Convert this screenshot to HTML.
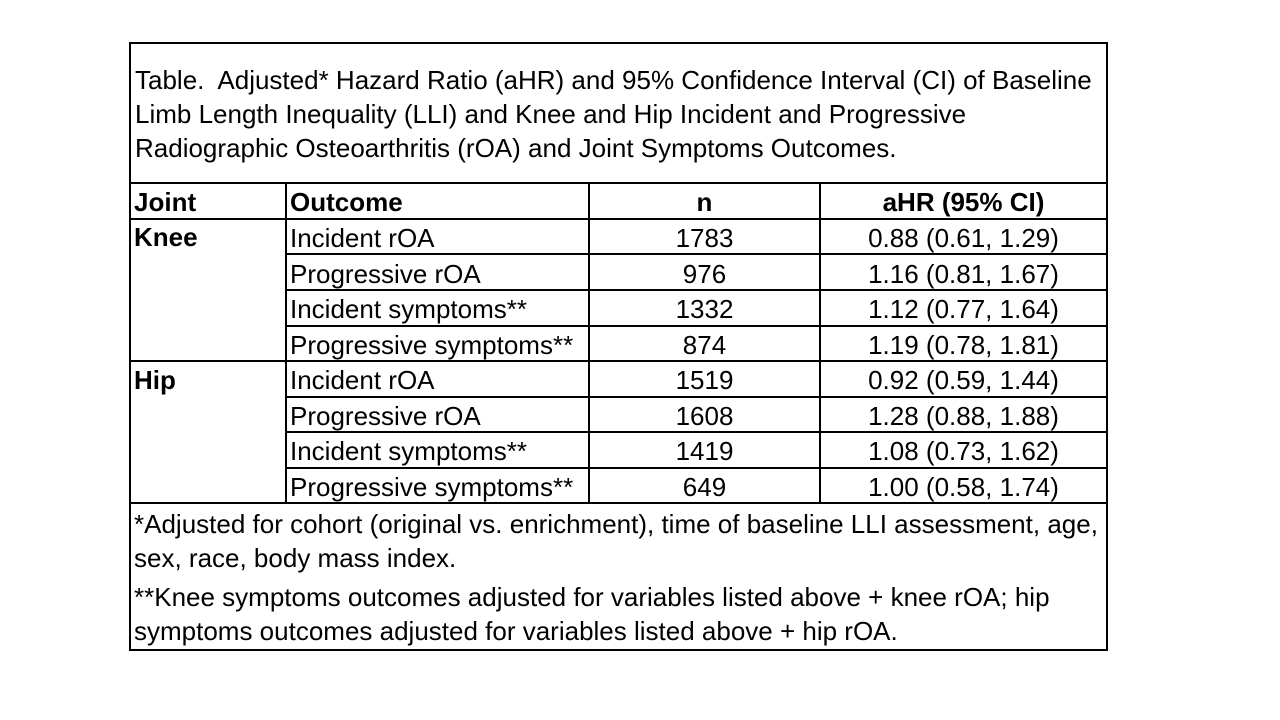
<!DOCTYPE html>
<html><head><meta charset="utf-8"><style>
body{margin:0;width:1280px;height:720px;background:#fff;position:relative;font-family:"Liberation Sans",Arial,sans-serif;font-size:26px;color:#000;overflow:hidden}
.h,.v{position:absolute;background:#000}
.h{height:2px}.v{width:2px}
.t{position:absolute;white-space:nowrap;line-height:36px}
.c{text-align:center}
b{font-weight:bold}
</style></head><body>
<div class="h" style="left:129px;top:42px;width:979px"></div>
<div class="h" style="left:129px;top:649px;width:979px"></div>
<div class="v" style="left:129px;top:42px;height:609px"></div>
<div class="v" style="left:1106px;top:42px;height:609px"></div>
<div class="h" style="left:129px;top:182px;width:979px"></div>
<div class="h" style="left:129px;top:218px;width:979px"></div>
<div class="h" style="left:285px;top:253px;width:823px"></div>
<div class="h" style="left:285px;top:289px;width:823px"></div>
<div class="h" style="left:285px;top:325px;width:823px"></div>
<div class="h" style="left:129px;top:360px;width:979px"></div>
<div class="h" style="left:285px;top:396px;width:823px"></div>
<div class="h" style="left:285px;top:431px;width:823px"></div>
<div class="h" style="left:285px;top:467px;width:823px"></div>
<div class="h" style="left:129px;top:502px;width:979px"></div>
<div class="v" style="left:285px;top:182px;height:322px"></div>
<div class="v" style="left:588px;top:182px;height:322px"></div>
<div class="v" style="left:819px;top:182px;height:322px"></div>

<div class="t" style="left:135px;top:62px">Table.&nbsp; Adjusted* Hazard Ratio (aHR) and 95% Confidence Interval (CI) of Baseline</div>
<div class="t" style="left:135px;top:96px">Limb Length Inequality (LLI) and Knee and Hip Incident and Progressive</div>
<div class="t" style="left:135px;top:130px">Radiographic Osteoarthritis (rOA) and Joint Symptoms Outcomes.</div>

<div class="t" style="left:134px;top:184px"><b>Joint</b></div>
<div class="t" style="left:290px;top:184px"><b>Outcome</b></div>
<div class="t c" style="left:589px;width:231px;top:184px"><b>n</b></div>
<div class="t c" style="left:820px;width:287px;top:184px"><b>aHR (95% CI)</b></div>

<div class="t" style="left:134px;top:219px"><b>Knee</b></div>
<div class="t" style="left:134px;top:362px"><b>Hip</b></div>

<div class="t" style="left:290px;top:220px">Incident rOA</div>
<div class="t" style="left:290px;top:256px">Progressive rOA</div>
<div class="t" style="left:290px;top:291px">Incident symptoms**</div>
<div class="t" style="left:290px;top:327px">Progressive symptoms**</div>
<div class="t" style="left:290px;top:362px">Incident rOA</div>
<div class="t" style="left:290px;top:398px">Progressive rOA</div>
<div class="t" style="left:290px;top:433px">Incident symptoms**</div>
<div class="t" style="left:290px;top:469px">Progressive symptoms**</div>

<div class="t c" style="left:589px;width:231px;top:220px">1783</div>
<div class="t c" style="left:589px;width:231px;top:256px">976</div>
<div class="t c" style="left:589px;width:231px;top:291px">1332</div>
<div class="t c" style="left:589px;width:231px;top:327px">874</div>
<div class="t c" style="left:589px;width:231px;top:362px">1519</div>
<div class="t c" style="left:589px;width:231px;top:398px">1608</div>
<div class="t c" style="left:589px;width:231px;top:433px">1419</div>
<div class="t c" style="left:589px;width:231px;top:469px">649</div>

<div class="t c" style="left:820px;width:287px;top:220px">0.88 (0.61, 1.29)</div>
<div class="t c" style="left:820px;width:287px;top:256px">1.16 (0.81, 1.67)</div>
<div class="t c" style="left:820px;width:287px;top:291px">1.12 (0.77, 1.64)</div>
<div class="t c" style="left:820px;width:287px;top:327px">1.19 (0.78, 1.81)</div>
<div class="t c" style="left:820px;width:287px;top:362px">0.92 (0.59, 1.44)</div>
<div class="t c" style="left:820px;width:287px;top:398px">1.28 (0.88, 1.88)</div>
<div class="t c" style="left:820px;width:287px;top:433px">1.08 (0.73, 1.62)</div>
<div class="t c" style="left:820px;width:287px;top:469px">1.00 (0.58, 1.74)</div>

<div class="t" style="left:134px;top:506px">*Adjusted for cohort (original vs. enrichment), time of baseline LLI assessment, age,</div>
<div class="t" style="left:134px;top:540px">sex, race, body mass index.</div>
<div class="t" style="left:134px;top:579px">**Knee symptoms outcomes adjusted for variables listed above + knee rOA; hip</div>
<div class="t" style="left:134px;top:613px">symptoms outcomes adjusted for variables listed above + hip rOA.</div>
</body></html>
